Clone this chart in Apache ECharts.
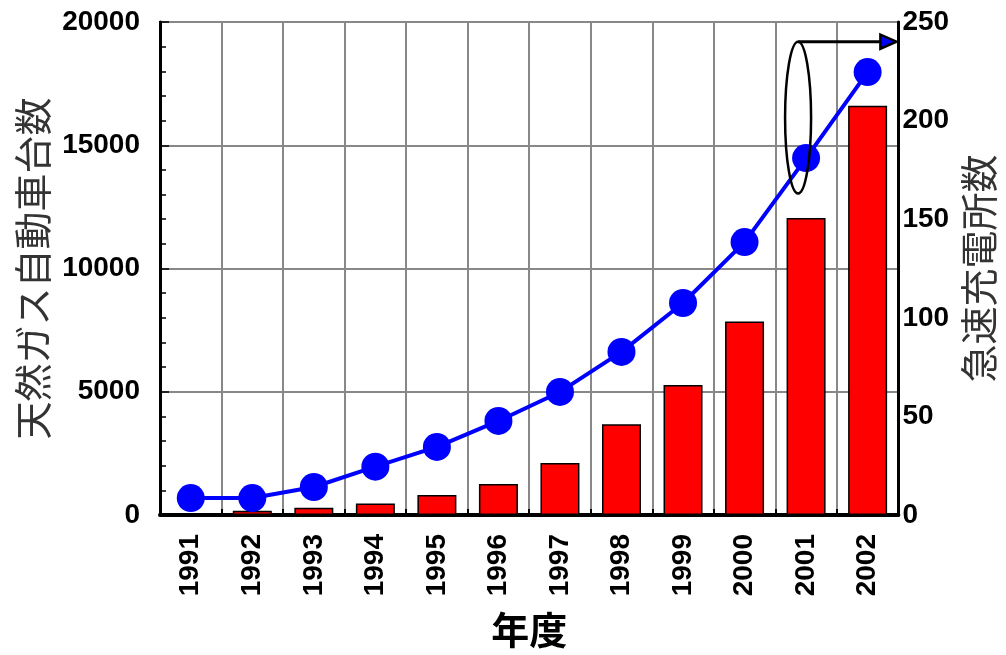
<!DOCTYPE html>
<html>
<head>
<meta charset="utf-8">
<script src="https://cdn.jsdelivr.net/npm/echarts@6/dist/echarts.min.js"></script>
<style>
html,body{margin:0;padding:0;background:#fff;}
#chart{width:1006px;height:655px;}
</style>
</head>
<body>
<div id="chart"></div>
<script>
// ---- data ----
const years = ['1991','1992','1993','1994','1995','1996','1997','1998','1999','2000','2001','2002'];
const vehicles = [80, 170, 290, 470, 810, 1260, 2110, 3680, 5270, 7850, 12050, 16600];   // 天然ガス自動車台数 (left axis)
const stations = [8.6, 8.6, 14.2, 24.5, 34.5, 47.7, 62.4, 82.7, 107.5, 138.4, 181, 224.6]; // 急速充電所数 (right axis)
const leftTicks = [0, 5000, 10000, 15000, 20000];
const rightTicks = [0, 50, 100, 150, 200, 250];
// annotation: ellipse around the 2001 point, arrow pointing to right axis
const noteCategory = '2001';
const noteTop = 240;     // right-axis value
const noteBottom = 163;  // right-axis value

const LAT = '"Liberation Sans", Arial, sans-serif';
const CJK = '"Noto Sans CJK JP", sans-serif';

const chart = echarts.init(document.getElementById('chart'), null, {renderer: 'canvas'});
const option = {
  animation: false,
  backgroundColor: '#fff',
  grid: {left: 160, right: 103, top: 22, bottom: 140, show: true, borderColor: '#000', borderWidth: 2, backgroundColor: 'transparent'},
  xAxis: {
    type: 'category',
    data: years,
    boundaryGap: true,
    name: '年度',
    nameLocation: 'middle',
    nameGap: 96,
    nameTextStyle: {fontFamily: CJK, fontWeight: 'bold', fontSize: 38, color: '#000'},
    axisLine: {lineStyle: {color: '#000', width: 4}},
    axisTick: {show: true, inside: true, length: 6, lineStyle: {color: '#000', width: 2}},
    axisLabel: {rotate: 90, margin: 19, fontFamily: LAT, fontWeight: 'bold', fontSize: 28, color: '#000'},
    splitLine: {show: true, lineStyle: {color: '#888', width: 2}}
  },
  yAxis: [
    {
      // left axis: ticks every 1000 (inside), labels only at the major values
      type: 'value', min: leftTicks[0], max: leftTicks[leftTicks.length - 1], interval: 1000,
      name: '天然ガス自動車台数',
      nameLocation: 'middle', nameRotate: 90, nameGap: 106,
      nameTextStyle: {fontFamily: CJK, fontSize: 38, color: '#333'},
      axisLine: {show: true, lineStyle: {color: '#000', width: 3}},
      axisTick: {show: true, inside: true, length: 6, lineStyle: {color: '#000', width: 1.5}},
      axisLabel: {margin: 20, fontFamily: LAT, fontWeight: 'bold', fontSize: 28, color: '#000',
                  formatter: v => (leftTicks.indexOf(v) >= 0 ? String(v) : '')},
      splitLine: {show: false}
    },
    {
      type: 'value', min: rightTicks[0], max: rightTicks[rightTicks.length - 1], interval: 50,
      name: '急速充電所数',
      nameLocation: 'middle', nameRotate: 90, nameGap: 60,
      nameTextStyle: {fontFamily: CJK, fontSize: 38, color: '#333'},
      position: 'right',
      axisLine: {show: true, lineStyle: {color: '#000', width: 3}},
      axisTick: {show: false},
      axisLabel: {margin: 4, fontFamily: LAT, fontWeight: 'bold', fontSize: 28, color: '#000'},
      splitLine: {show: false}
    },
    {
      // hidden helper axis: horizontal grid lines and longer ticks at the major values
      type: 'value', min: leftTicks[0], max: leftTicks[leftTicks.length - 1], interval: 5000,
      position: 'left',
      axisLine: {show: false},
      axisTick: {show: true, inside: true, length: 9, lineStyle: {color: '#000', width: 1.5}},
      axisLabel: {show: false},
      splitLine: {show: true, lineStyle: {color: '#888', width: 2}}
    }
  ],
  series: [
    {
      type: 'bar', data: vehicles, yAxisIndex: 0, barWidth: 39,
      itemStyle: {color: '#ff0000', borderColor: '#000', borderWidth: 1.5},
      z: 2
    },
    {
      type: 'line', data: stations, yAxisIndex: 1,
      symbol: 'circle', symbolSize: 28,
      lineStyle: {color: '#0000ff', width: 4},
      itemStyle: {color: '#0000ff'},
      z: 3
    }
  ]
};
chart.setOption(option);

// annotation positioned through the chart's own scales
const cx = chart.convertToPixel({xAxisIndex: 0}, noteCategory) - 8;
const yTop = chart.convertToPixel({yAxisIndex: 1}, noteTop);
const yBot = chart.convertToPixel({yAxisIndex: 1}, noteBottom);
const xRight = chart.convertToPixel({xAxisIndex: 0}, years[years.length - 1]) + (chart.convertToPixel({xAxisIndex: 0}, years[1]) - chart.convertToPixel({xAxisIndex: 0}, years[0])) / 2;
chart.setOption({
  graphic: [
    {type: 'ellipse', shape: {cx: cx, cy: (yTop + yBot) / 2, rx: 13, ry: (yBot - yTop) / 2},
     style: {fill: 'none', stroke: '#000', lineWidth: 2.5}, z: 10},
    {type: 'line', shape: {x1: cx, y1: yTop, x2: xRight - 14, y2: yTop},
     style: {stroke: '#000', lineWidth: 3}, z: 10},
    {type: 'polygon', shape: {points: [[xRight - 2, yTop], [xRight - 18, yTop - 7], [xRight - 18, yTop + 7]]},
     style: {fill: '#0000ff', stroke: '#000', lineWidth: 2.5}, z: 10}
  ]
});
</script>
</body>
</html>
